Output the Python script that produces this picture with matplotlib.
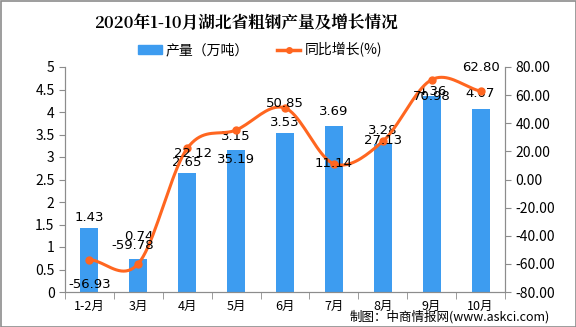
import numpy as np
import matplotlib
matplotlib.use("Agg")
import matplotlib.pyplot as plt
from matplotlib.patches import Rectangle
from matplotlib.lines import Line2D
from matplotlib.patches import Patch

plt.rcParams['font.family'] = ['Noto Sans CJK SC', 'DejaVu Sans']

categories = ['1-2月', '3月', '4月', '5月', '6月', '7月', '8月', '9月', '10月']
output = [1.43, 0.74, 2.65, 3.15, 3.53, 3.69, 3.28, 4.36, 4.07]
growth = [-56.93, -59.78, 22.12, 35.19, 50.85, 11.14, 27.13, 70.98, 62.80]
left_ticks = [0, 0.5, 1, 1.5, 2, 2.5, 3, 3.5, 4, 4.5, 5]
left_labels = ['0', '0.5', '1', '1.5', '2', '2.5', '3', '3.5', '4', '4.5', '5']
right_ticks = [-80, -60, -40, -20, 0, 20, 40, 60, 80]

bar_color = '#3D9CF0'
line_color = '#FF6620'
grey = '#8C8C8C'

DPI = 100
fig = plt.figure(figsize=(5.76, 3.27), dpi=DPI)
ax = fig.add_axes([65/576, 1-292/327, 440/576, 225/327])
ax2 = ax.twinx()

x = np.arange(len(categories))
ax.bar(x, output, width=0.37, color=bar_color, zorder=2)
ax.set_xlim(-0.5, len(categories)-0.5)
ax.set_ylim(0, 5)
ax.set_yticks(left_ticks)
ax.set_yticklabels(left_labels)
ax2.set_ylim(-80, 80)
ax2.set_yticks(right_ticks)
ax2.set_yticklabels([f'{t:.2f}' for t in right_ticks])

# smooth curve through the data points (Catmull-Rom)
def catmull(xs, ys, n=20):
    px = np.concatenate([[2*xs[0]-xs[1]], xs, [2*xs[-1]-xs[-2]]])
    py = np.concatenate([[2*ys[0]-ys[1]], ys, [2*ys[-1]-ys[-2]]])
    ox, oy = [], []
    for i in range(1, len(px)-2):
        t = np.linspace(0, 1, n, endpoint=False)
        for arr, out in ((px, ox), (py, oy)):
            p0, p1, p2, p3 = arr[i-1], arr[i], arr[i+1], arr[i+2]
            out.extend(0.5*((2*p1) + (-p0+p2)*t + (2*p0-5*p1+4*p2-p3)*t**2 + (-p0+3*p1-3*p2+p3)*t**3))
    ox.append(xs[-1]); oy.append(ys[-1])
    return np.array(ox), np.array(oy)

sx, sy = catmull(x.astype(float), np.array(growth, dtype=float))
ax2.plot(sx, sy, color=line_color, lw=2.2, zorder=3, solid_capstyle='round')
ax2.plot(x, growth, 'o', color=line_color, ms=5, zorder=4)

px2pt = 72/DPI
bar_off = [10, 22, 10, 14, 11, 14, 14, 4, 15]
for xi, v, o in zip(x, output, bar_off):
    ax.annotate(f'{v:.2f}', (xi, v), xytext=(0, o*px2pt), textcoords='offset points',
                ha='center', va='center', fontsize=9.5, family='DejaVu Sans', zorder=5)
line_off = [-25, 18, -5, -29, 4, 0, 1, -17, 24]
line_dx = [0, -6, 6, 0, 0, 0, 0, 0, 0]
for xi, v, o, dx in zip(x, growth, line_off, line_dx):
    ax2.annotate(f'{v:.2f}', (xi, v), xytext=(dx*px2pt, o*px2pt), textcoords='offset points',
                 ha='center', va='center', fontsize=9.5, family='DejaVu Sans', zorder=5)

# axes styling
for a in (ax, ax2):
    a.spines['top'].set_visible(False)
    for s in ('left', 'right', 'bottom'):
        a.spines[s].set_color(grey)
ax.set_xticks(x)
ax.set_xticklabels(categories, fontsize=9)
ax.tick_params(axis='x', length=0, pad=6)
ax.set_xticks(np.arange(-0.5, len(categories), 1), minor=True)
ax.tick_params(axis='x', which='minor', length=5, color=grey)
ax.tick_params(axis='y', length=4, color=grey, labelsize=10, direction='out')
ax2.tick_params(axis='y', length=4, color=grey, labelsize=10, direction='out')

fig.text(246/576, 1-24/327, '2020年1-10月湖北省粗钢产量及增长情况', ha='center', va='center',
         fontsize=12, fontweight='bold', family=['Noto Serif CJK SC', 'Noto Sans CJK SC', 'DejaVu Sans'])

handles = [Patch(color=bar_color), Line2D([], [], color=line_color, lw=2.5, marker='o', ms=4)]
fig.legend(handles, ['产量（万吨）', '同比增长(%)'], loc='center', bbox_to_anchor=(260/576, 1-50/327),
           ncol=2, frameon=False, fontsize=10, handlelength=1.7, handleheight=0.6, columnspacing=2.0,
           handletextpad=0.3)

fig.text(450/576, 1-317/327, '制图：中商情报网(www.askci.com)', ha='center', va='center', fontsize=9)

fig.add_artist(Rectangle((0.5/576, 0.5/327), 1-1/576, 1-1/327, transform=fig.transFigure,
                         fill=False, edgecolor=grey, lw=1.2))

fig.savefig('out.png', dpi=DPI)
